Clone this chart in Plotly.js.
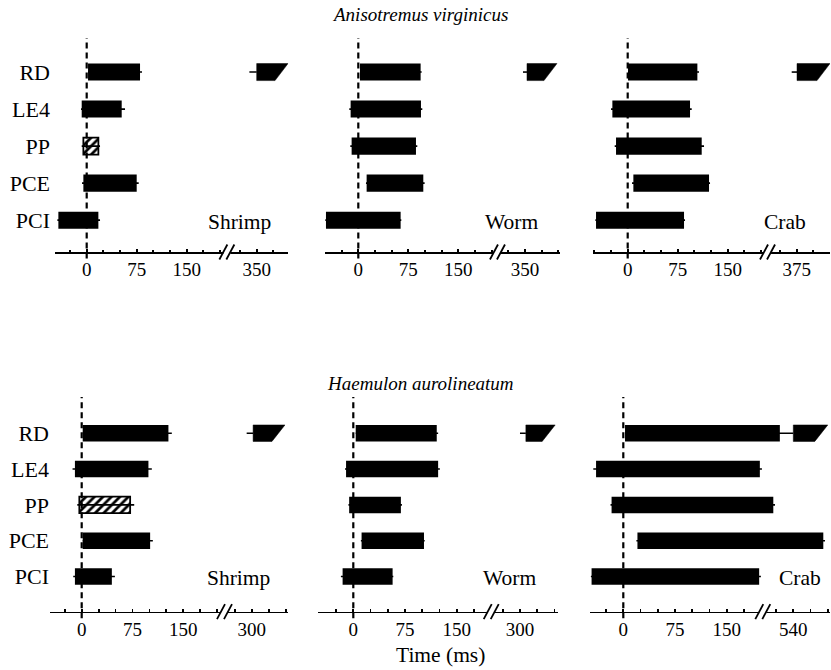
<!DOCTYPE html>
<html>
<head>
<meta charset="utf-8">
<script src="https://cdn.plot.ly/plotly-3.0.1.min.js"></script>
<style>html,body{margin:0;padding:0;background:#fff;}#chart{width:831px;height:670px;}</style>
</head>
<body>
<div id="chart"></div>
<script>
// ---------------- DATA (ms) ----------------
const muscles = ['RD', 'LE4', 'PP', 'PCE', 'PCI'];
const panelLabels = ['Shrimp', 'Worm', 'Crab', 'Shrimp', 'Worm', 'Crab'];
const speciesTitles = ['Anisotremus virginicus', 'Haemulon aurolineatum'];
const xTickLabels = [0, 75, 150];
const postBreakLabels = [350, 350, 375, 300, 300, 540];
const hatchedInShrimp = [false, false, true, false, false];

// Anisotremus virginicus
const avShrimpOn = [2, -7.5, -5, -5, -42.5];
const avShrimpOff = [80, 52.5, 17.5, 75, 17.5];
const avShrimpErrOn = [0, 1, 2.5, 2, 1.5];
const avShrimpErrOff = [3, 5, 2.5, 3, 2.5];
const avShrimpRdLate = [339, 350, 397];

const avWormOn = [2.5, -11.5, -10, 12.5, -48.5];
const avWormOff = [93.5, 94, 86.5, 97.5, 63.5];
const avWormErrOn = [0, 2, 2, 1, 1];
const avWormErrOff = [1.5, 2, 2, 2, 1];
const avWormRdLate = [347, 353, 398];

const avCrabOn = [0.5, -23, -17.5, 8.5, -47.5];
const avCrabOff = [104.5, 93.5, 111, 122, 84.5];
const avCrabErrOn = [0, 2, 2, 2, 1];
const avCrabErrOff = [2.5, 2.5, 3.5, 1.5, 1.5];
const avCrabRdLate = [367.5, 375.5, 425];

// Haemulon aurolineatum
const haShrimpOn = [1.5, -10, -3.5, 1.5, -10];
const haShrimpOff = [128, 98.5, 71.5, 101, 44.5];
const haShrimpErrOn = [0, 3.5, 3, 0, 2.5];
const haShrimpErrOff = [5, 5, 6, 4, 4.5];
const haShrimpRdLate = [292.5, 302, 349];

const haWormOn = [3.5, -10.5, -6, 12, -15.5];
const haWormOff = [121, 123, 69, 102.5, 57];
const haWormErrOn = [0, 1.5, 1, 1, 2.5];
const haWormErrOff = [2, 2.5, 1.5, 1, 1];
const haWormRdLate = [300, 308.5, 351];

const haCrabOn = [2.5, -39.5, -17, 20.5, -46];
const haCrabOff = [520.5, 198, 511, 583.5, 197];
const haCrabErrOn = [0, 4, 1.5, 1.5, 1];
const haCrabErrOff = [19.5, 3, 2.5, 2.5, 2.5];
const haCrabRdLate = [540, 540, 590];

// ---------------- LAYOUT GEOMETRY (px) ----------------
const W = 831, H = 670;
const FONT = 'Liberation Serif, Times New Roman, serif';
const geom = [
  {x0: 55, x1: 288.3, zero: 86.7, mpp: 1.5, brk: 211, postPos: 255, row: 0, lab: 273},
  {x0: 325, x1: 560, zero: 358.3, mpp: 1.5, brk: 209.5, postPos: 250, row: 0, lab: 540},
  {x0: 593, x1: 830, zero: 627.7, mpp: 1.5, brk: 210.5, postPos: 253.5, row: 0, lab: 808},
  {x0: 50, x1: 288, zero: 81.7, mpp: 1.476, brk: 211.5, postPos: 251, row: 1, lab: 272},
  {x0: 318, x1: 558, zero: 353.3, mpp: 1.45, brk: 200.7, postPos: 241.7, row: 1, lab: 538},
  {x0: 590, x1: 830, zero: 623.3, mpp: 1.45, brk: 203, postPos: 246.5, row: 1, lab: 823}
];
const rows = [
  {y0: 38, y1: 252, top: -0.92, bot: 4.86, labY: 222},
  {y0: 397, y1: 611.7, top: -1.01, bot: 4.98, labY: 578}
];
const panels = [
  {on: avShrimpOn, off: avShrimpOff, eOn: avShrimpErrOn, eOff: avShrimpErrOff, late: avShrimpRdLate, hatch: true},
  {on: avWormOn, off: avWormOff, eOn: avWormErrOn, eOff: avWormErrOff, late: avWormRdLate, hatch: false},
  {on: avCrabOn, off: avCrabOff, eOn: avCrabErrOn, eOff: avCrabErrOff, late: avCrabRdLate, hatch: false},
  {on: haShrimpOn, off: haShrimpOff, eOn: haShrimpErrOn, eOff: haShrimpErrOff, late: haShrimpRdLate, hatch: true},
  {on: haWormOn, off: haWormOff, eOn: haWormErrOn, eOff: haWormErrOff, late: haWormRdLate, hatch: false},
  {on: haCrabOn, off: haCrabOff, eOn: haCrabErrOn, eOff: haCrabErrOff, late: haCrabRdLate, hatch: false}
];

const BAR_H = 0.46;
const SLANT_PX = 13;
const px2x = p => p / W;
const py2y = p => 1 - p / H;

const data = [];
const layout = {
  width: W, height: H,
  margin: {l: 0, r: 0, t: 0, b: 0},
  paper_bgcolor: '#fff', plot_bgcolor: 'rgba(0,0,0,0)',
  showlegend: false,
  shapes: [], annotations: [],
  font: {family: FONT, color: '#000'}
};

panels.forEach((p, i) => {
  const g = geom[i];
  const r = rows[g.row];
  const post = postBreakLabels[i];
  const T = v => (v <= g.brk ? v : v - post + g.postPos);
  const n = i + 1;
  const xa = 'x' + (n === 1 ? '' : n), ya = 'y' + (n === 1 ? '' : n);
  const xmin = (g.x0 - g.zero) * g.mpp, xmax = (g.x1 - g.zero) * g.mpp;
  const ypos = muscles.map((m, k) => k);

  // whiskers (drawn under bars)
  const wx = [], wy = [];
  muscles.forEach((m, k) => {
    wx.push(T(p.on[k] - p.eOn[k]), T(p.off[k] + p.eOff[k]), null);
    wy.push(k, k, null);
  });
  wx.push(T(p.late[0]), T(p.late[1]), null); wy.push(0, 0, null);
  data.push({type: 'scatter', mode: 'lines', x: wx, y: wy, xaxis: xa, yaxis: ya,
    line: {color: '#000', width: 1.6}, hoverinfo: 'skip'});

  // bars
  const hatchArr = muscles.map((m, k) => (p.hatch && hatchedInShrimp[k]) ? '/' : '');
  data.push({type: 'bar', orientation: 'h', y: ypos,
    base: muscles.map((m, k) => T(p.on[k])),
    x: muscles.map((m, k) => T(p.off[k]) - T(p.on[k])),
    width: BAR_H, xaxis: xa, yaxis: ya,
    marker: {color: '#000',
      line: {color: '#000', width: hatchArr.map(h => h ? 1.8 : 0)},
      pattern: {shape: hatchArr, fgcolor: '#000', bgcolor: '#fff', size: 6, solidity: 0.45, fillmode: 'replace'}},
    hoverinfo: 'skip'});

  // late RD burst (parallelogram, slanted end)
  const slant = SLANT_PX * g.mpp;
  const s = T(p.late[1]), e = T(p.late[2]);
  data.push({type: 'scatter', mode: 'lines', fill: 'toself', fillcolor: '#000',
    x: [s, s, e, e - slant, s], y: [BAR_H / 2, -BAR_H / 2, -BAR_H / 2, BAR_H / 2, BAR_H / 2],
    xaxis: xa, yaxis: ya, line: {color: '#000', width: 0.5}, hoverinfo: 'skip'});

  // minor tick positions
  const minor = [];
  for (let v = Math.ceil(xmin / 25) * 25; v < g.brk - 6; v += 25) {
    if (!xTickLabels.includes(v)) minor.push(v);
  }
  for (let k = -6; k <= 6; k++) {
    const v = post + 25 * k;
    const pv = T(v);
    if (k !== 0 && v > g.brk && pv > g.brk + 8 && pv <= xmax) minor.push(pv);
  }

  layout['xaxis' + (n === 1 ? '' : n)] = {
    domain: [px2x(g.x0), px2x(g.x1)], range: [xmin, xmax], anchor: ya,
    showline: true, linecolor: '#000', linewidth: 1.6,
    showgrid: false, zeroline: false,
    ticks: 'inside', ticklen: 3, tickwidth: 1.8, tickcolor: '#000',
    tickmode: 'array', tickvals: xTickLabels.concat([T(post)]),
    ticktext: xTickLabels.map(String).concat([String(post)]),
    tickfont: {family: FONT, size: 19, color: '#000'},
    minor: {tickmode: 'array', tickvals: minor, ticks: 'inside', ticklen: 2.5, tickwidth: 1.8, tickcolor: '#000', showgrid: false},
    fixedrange: true
  };
  layout['yaxis' + (n === 1 ? '' : n)] = {
    domain: [py2y(r.y1), py2y(r.y0)], range: [r.bot, r.top], anchor: xa,
    showline: false, showgrid: false, zeroline: false, ticks: '',
    tickmode: 'array', tickvals: ypos, ticktext: muscles,
    showticklabels: (i % 3 === 0), ticklabelstandoff: (g.row === 0 ? 4 : 0),
    tickfont: {family: FONT, size: 22, color: '#000'},
    fixedrange: true
  };

  // dashed zero line
  layout.shapes.push({type: 'line', xref: xa, yref: ya + ' domain', x0: 0, x1: 0, y0: -0.03, y1: 1,
    line: {color: '#000', width: 2.2, dash: '6px,4px'}});

  // axis break marks
  const bpx = g.zero + g.brk / g.mpp;
  const apx = r.y1;
  layout.shapes.push({type: 'rect', xref: 'paper', yref: 'paper',
    x0: px2x(bpx - 4), x1: px2x(bpx + 3), y0: py2y(apx + 2), y1: py2y(apx - 2),
    fillcolor: '#fff', line: {width: 0}});
  [-4, 3].forEach(d => {
    layout.shapes.push({type: 'line', xref: 'paper', yref: 'paper',
      x0: px2x(bpx + d - 4), y0: py2y(apx + 7.5), x1: px2x(bpx + d + 4), y1: py2y(apx - 7.5),
      line: {color: '#000', width: 1.8}});
  });

  // food label
  layout.annotations.push({text: panelLabels[i], xref: 'paper', yref: 'paper',
    x: px2x(g.lab), y: py2y(r.labY), xanchor: 'right', yanchor: 'middle',
    showarrow: false, font: {family: FONT, size: 21.5, color: '#000'}});
});

layout.annotations.push(
  {text: '<i>' + speciesTitles[0] + '</i>', xref: 'paper', yref: 'paper', x: px2x(420), y: py2y(15),
   xanchor: 'center', yanchor: 'middle', showarrow: false, font: {family: FONT, size: 19, color: '#000'}},
  {text: '<i>' + speciesTitles[1] + '</i>', xref: 'paper', yref: 'paper', x: px2x(420), y: py2y(383),
   xanchor: 'center', yanchor: 'middle', showarrow: false, font: {family: FONT, size: 19, color: '#000'}},
  {text: 'Time (ms)', xref: 'paper', yref: 'paper', x: px2x(440), y: py2y(655),
   xanchor: 'center', yanchor: 'middle', showarrow: false, font: {family: FONT, size: 21.5, color: '#000'}}
);

Plotly.newPlot('chart', data, layout, {staticPlot: true, displayModeBar: false});
</script>
</body>
</html>
